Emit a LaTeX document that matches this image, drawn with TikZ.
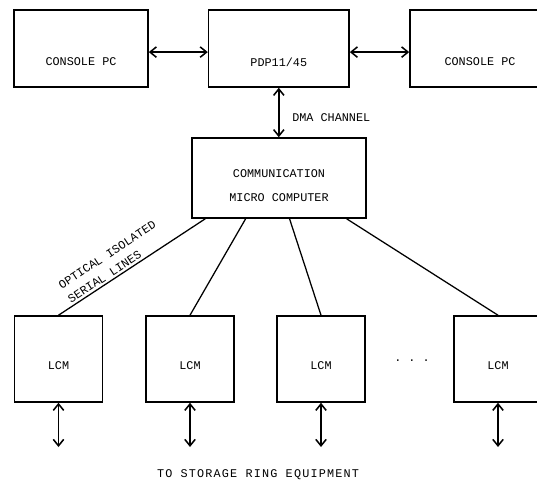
\documentclass[tikz,border=0pt]{standalone}
\usepackage{fontspec}
\setmonofont{Liberation Mono}
\usetikzlibrary{arrows.meta,calc}

\def \topCenterY{-1.2125}
\def \topSizeY{1.925}
\def \topTextY{-1.55}
\def \conACenterX{2.025}
\def \conASizeX{3.35}
\def \pdpCenterX{6.97}
\def \pdpSizeX{3.5125}
\def \conBCenterX{12.0}
\def \conBSizeX{3.5}
\def \cmcCenterX{6.975}
\def \cmcCenterY{-4.45}
\def \cmcSizeX{4.35}
\def \cmcSizeY{2.0}
\def \cmcTextY{-4.65}
\def \lcmCenterY{-8.975}
\def \lcmSizeX{2.2}
\def \lcmSizeY{2.15}
\def \lcmTextY{-9.15}
\def \lcmACenterX{1.4625}
\def \lcmBCenterX{4.75}
\def \lcmCCenterX{8.025}
\def \lcmDCenterX{12.45}
\def \busEndY{-11.175}

\begin{document}
\begin{tikzpicture}[
  unit/.style={draw, rectangle, line width=1.1pt, inner sep=0pt},
  txt/.style={font=\ttfamily\fontsize{8.4}{17}\selectfont, inner sep=0pt},
  link/.style={line width=1.1pt, {Straight Barb[length=1.6mm,width=2.6mm]}-{Straight Barb[length=1.6mm,width=2.6mm]}},
  wire/.style={line width=0.9pt}]
\useasboundingbox (0,0) rectangle (13.425,-12.075);
\clip (0,0) rectangle (13.425,-12.075);

% ---- Top row
% ---- console A
\node[unit, minimum width=\conASizeX cm, minimum height=\topSizeY cm] (conA) at (\conACenterX, \topCenterY) {};
\node[txt] (conAtxt) at (\conACenterX, \topTextY) {CONSOLE PC};
% ---- pdp
\node[unit, minimum width=\pdpSizeX cm, minimum height=\topSizeY cm] (pdp) at (\pdpCenterX, \topCenterY) {};
\node[txt] (pdptxt) at (\pdpCenterX, \topTextY) {PDP11/45};
% ---- console B
\node[unit, minimum width=\conBSizeX cm, minimum height=\topSizeY cm] (conB) at (\conBCenterX, \topCenterY) {};
\node[txt] (conBtxt) at (\conBCenterX, \topTextY) {CONSOLE PC};

% ---- Communication micro computer
\node[unit, minimum width=\cmcSizeX cm, minimum height=\cmcSizeY cm] (cmc) at (\cmcCenterX, \cmcCenterY) {};
\node[txt, align=center] (cmctxt) at (\cmcCenterX, \cmcTextY) {COMMUNICATION\\MICRO COMPUTER};

% ---- LCM row
\node[unit, minimum width=\lcmSizeX cm, minimum height=\lcmSizeY cm] (lcmA) at (\lcmACenterX, \lcmCenterY) {};
\node[txt] (lcmAtxt) at (\lcmACenterX, \lcmTextY) {LCM};
\node[unit, minimum width=\lcmSizeX cm, minimum height=\lcmSizeY cm] (lcmB) at (\lcmBCenterX, \lcmCenterY) {};
\node[txt] (lcmBtxt) at (\lcmBCenterX, \lcmTextY) {LCM};
\node[unit, minimum width=\lcmSizeX cm, minimum height=\lcmSizeY cm] (lcmC) at (\lcmCCenterX, \lcmCenterY) {};
\node[txt] (lcmCtxt) at (\lcmCCenterX, \lcmTextY) {LCM};
\node[txt] (dots) at (10.3, -9.025) {.~.~.};
\node[unit, minimum width=\lcmSizeX cm, minimum height=\lcmSizeY cm] (lcmD) at (\lcmDCenterX, \lcmCenterY) {};
\node[txt] (lcmDtxt) at (\lcmDCenterX, \lcmTextY) {LCM};

% ---- Links
\draw[link] ([yshift=-0.9mm]conA.east) -- ([yshift=-0.9mm]pdp.west);
\draw[link] ([yshift=-0.9mm]pdp.east) -- ([yshift=-0.9mm]conB.west);
\draw[link] (pdp.south) -- (pdp.south |- cmc.north);
\node[txt, anchor=west] (dmalbl) at (7.3, -2.95) {DMA CHANNEL};

% ---- Serial lines
\coordinate (cmcA) at ($(cmc.south west)!0.08!(cmc.south east)$);
\coordinate (cmcB) at ($(cmc.south west)!0.31!(cmc.south east)$);
\coordinate (cmcC) at ($(cmc.south west)!0.56!(cmc.south east)$);
\coordinate (cmcD) at ($(cmc.south west)!0.885!(cmc.south east)$);
\draw[wire] (lcmA.north) -- node[pos=0.42, sloped, above, inner sep=1.5pt, align=left, font=\ttfamily\fontsize{8.4}{12}\selectfont] (optlbl) {OPTICAL ISOLATED\\SERIAL LINES} (cmcA);
\draw[wire] (lcmB.north) -- (cmcB);
\draw[wire] (lcmC.north) -- (cmcC);
\draw[wire] (lcmD.north) -- (cmcD);

% ---- To equipment
\coordinate (busA) at (\lcmACenterX, \busEndY);
\coordinate (busB) at (\lcmBCenterX, \busEndY);
\coordinate (busC) at (\lcmCCenterX, \busEndY);
\coordinate (busD) at (\lcmDCenterX, \busEndY);
\draw[link] (lcmA.south) -- (busA);
\draw[link] (lcmB.south) -- (busB);
\draw[link] (lcmC.south) -- (busC);
\draw[link] (lcmD.south) -- (busD);
\node[txt, font=\ttfamily\fontsize{8.4}{17}\selectfont\addfontfeature{LetterSpace=10}] (eqlbl) at (6.45, -11.875) {TO STORAGE RING EQUIPMENT};
\end{tikzpicture}
\end{document}
